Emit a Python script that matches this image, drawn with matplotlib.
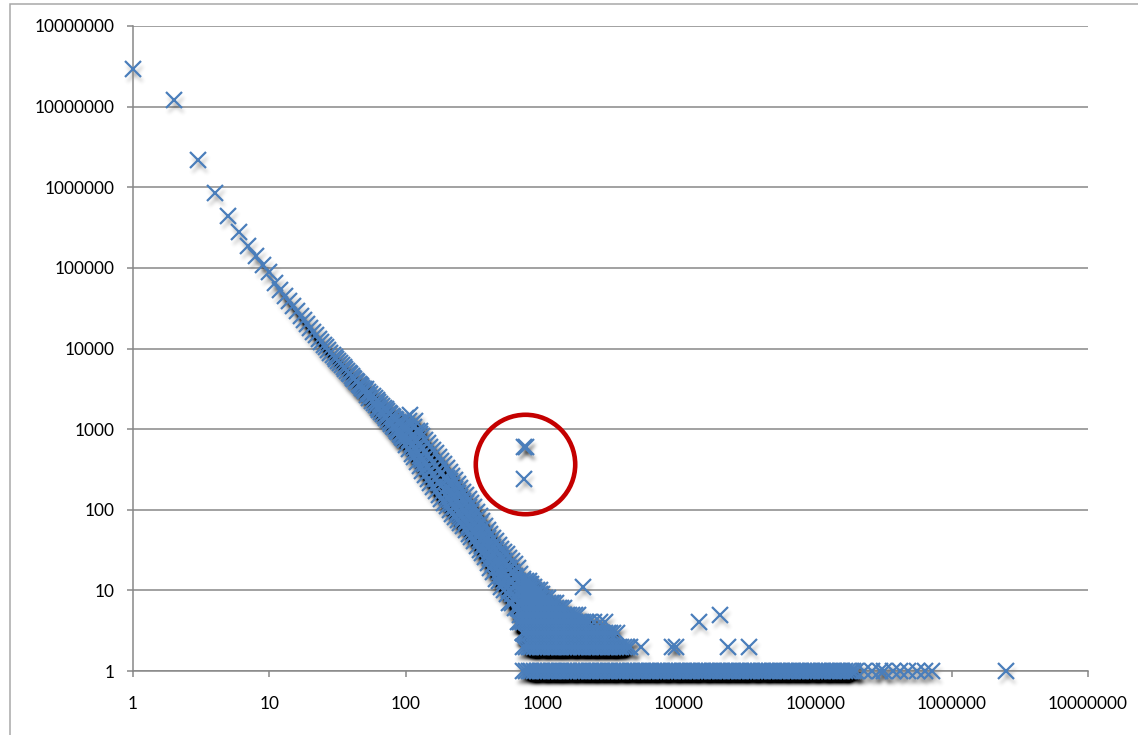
import numpy as np
import matplotlib
matplotlib.use('Agg')
import matplotlib.pyplot as plt
from matplotlib.patches import Rectangle
from matplotlib.ticker import NullLocator

BLUE = '#4a7ebb'
GREY = '#878787'

# first few counts, one point each
head_x = [1, 2, 3, 4, 5, 6, 7, 8, 9, 10]
head_y = [29000000, 12000000, 2200000, 850000, 440000, 280000, 187000, 140000, 110000, 89000]

# the narrow diagonal, one point per count 11..99
diag_x = [11, 12, 13, 14, 15, 16, 17, 18, 19, 20,
          21, 22, 23, 24, 25, 26, 27, 28, 29, 30,
          31, 32, 33, 34, 35, 36, 37, 38, 39, 40,
          41, 42, 43, 44, 45, 46, 47, 48, 49, 50,
          51, 52, 53, 54, 55, 56, 57, 58, 59, 60,
          61, 62, 63, 64, 65, 66, 67, 68, 69, 70,
          71, 72, 73, 74, 75, 76, 77, 78, 79, 80,
          81, 82, 83, 84, 85, 86, 87, 88, 89, 90,
          91, 92, 93, 94, 95, 96, 97, 98, 99]
diag_y = [64900, 53800, 45400, 38700, 33400, 29100, 25500, 22600, 20100, 18000,
          16200, 14700, 13300, 12200, 11200, 10300, 9520, 8900, 8330, 7820,
          7350, 6930, 6540, 6180, 5860, 5560, 5280, 5020, 4790, 4560,
          4360, 4170, 3990, 3820, 3660, 3510, 3380, 3250, 3120, 3010,
          3150, 2650, 2900, 2450, 2750, 2250, 2560, 2120, 2420, 1970,
          2280, 1850, 2150, 1740, 2030, 1630, 1930, 1540, 1820, 1450,
          1760, 1360, 1660, 1290, 1590, 1220, 1520, 1160, 1450, 1100,
          1400, 1050, 1340, 1000, 1290, 950, 1240, 910, 1190, 870,
          1150, 835, 1100, 800, 1060, 770, 1020, 740, 990]

# the wide part of the band, 100..724, several frequencies per count
cloud_x = [100, 105, 110, 115, 120, 126, 132, 138, 145, 151, 158, 166, 174, 182, 191,
           200, 209, 219, 229, 240, 251, 263, 275, 288, 302, 316, 331, 347, 363, 380,
           398, 417, 437, 457, 479, 501, 525, 550, 575, 603, 631, 661, 692, 724]
cloud_y = [[631, 813, 1070, 1380], [562, 741, 977, 1260], [490, 646, 851, 1150],
           [447, 589, 794, 1050], [389, 525, 708, 955], [347, 468, 631, 871],
           [302, 417, 575, 813], [269, 372, 525, 741], [240, 339, 479, 676],
           [214, 302, 427, 603], [191, 269, 380, 550], [170, 240, 347, 501],
           [151, 214, 309, 457], [135, 195, 282, 407], [120, 174, 251, 372],
           [110, 145, 191, 251, 331], [100, 132, 174, 229, 295],
           [89, 117, 155, 204, 263], [81, 107, 141, 182, 234],
           [74, 95, 123, 162, 209], [68, 87, 112, 145, 186],
           [62, 79, 100, 129, 166], [56, 72, 93, 120, 151],
           [50, 65, 83, 107, 135], [46, 59, 74, 95, 120],
           [41, 52, 66, 85, 107], [36, 47, 59, 76, 95],
           [32, 42, 52, 66, 83], [29, 36, 46, 58, 72],
           [26, 32, 41, 50, 63], [22, 28, 35, 45, 56],
           [19, 25, 31, 40, 50], [17, 21, 28, 35, 45],
           [14, 19, 24, 32, 41], [13, 17, 22, 28, 37],
           [11, 15, 19, 25, 33], [10, 13, 17, 23, 30],
           [9, 11, 15, 20, 28], [7, 10, 13, 19, 25],
           [7, 9, 13, 17, 23], [6, 8, 11, 15, 21],
           [4, 6, 9, 13, 19], [4, 5, 7, 10, 16], [3, 4, 6, 10, 14]]

# low frequencies: counts that occur 1, 2, 3 ... times
row_levels = [1, 2, 3, 4, 5, 6, 7, 8, 9, 10, 11, 12, 13]
row_x = [
    [724, 759, 794, 832, 871, 912, 955,
     1000, 1050, 1100, 1150, 1200, 1260, 1320, 1380, 1450, 1510, 1580, 1660, 1740,
     1820, 1910, 2000, 2090, 2190, 2290, 2400, 2510, 2630, 2750, 2880, 3020, 3160,
     3310, 3470, 3630, 3800, 3980, 4170, 4370, 4570, 4790, 5010, 5250, 5500, 5750,
     6030, 6310, 6610, 6920, 7240, 7590, 7940, 8320, 8710, 9120, 9550,
     10000, 10500, 11000, 11500, 12000, 12600, 13200, 13800, 14500, 15100, 15800,
     16600, 17400, 18200, 19100, 20000, 20900, 21900, 22900, 24000, 25100, 26300,
     27500, 28800, 30200, 31600, 33100, 34700, 36300, 38000, 39800, 41700, 43700,
     45700, 47900, 50100, 52500, 55000, 57500, 60300, 63100, 66100, 69200, 72400,
     75900, 79400, 83200, 87100, 91200, 95500,
     100000, 105000, 110000, 115000, 120000, 126000, 132000, 138000, 145000,
     151000, 158000, 166000, 174000, 182000, 191000, 200000,
     228000, 262000, 297000, 320000, 370000, 420000, 480000, 560000, 640000,
     720000, 2500000],
    [724, 759, 794, 832, 871, 912, 955,
     1000, 1050, 1100, 1150, 1200, 1260, 1320, 1380, 1450, 1510, 1580, 1660, 1740,
     1820, 1910, 2000, 2090, 2190, 2290, 2400, 2510, 2630, 2750, 2880, 3020, 3160,
     3310, 3470, 3630, 3800, 3980, 4170, 4370,
     5300, 8900, 9600, 23000, 33000],
    [724, 759, 794, 832, 871, 912, 955,
     1000, 1050, 1100, 1150, 1200, 1260, 1320, 1380, 1450, 1510, 1580, 1660, 1740,
     1820, 1910, 2000, 2090, 2190, 2290, 2400, 2510, 2630, 2750, 2880, 3020, 3160,
     3300, 3500],
    [724, 759, 794, 832, 871, 912, 955,
     1000, 1050, 1100, 1150, 1200, 1260, 1320, 1380, 1450, 1510, 1580, 1660, 1740,
     1820, 1910, 2000, 2090, 2190,
     2400, 2630, 2880, 14000],
    [724, 759, 794, 832, 871, 912, 955,
     1000, 1050, 1100, 1150, 1200, 1260, 1320, 1380, 1450, 1510, 1580, 1660, 1740,
     1820, 20000],
    [724, 759, 794, 832, 871, 912, 955,
     1000, 1050, 1100, 1150, 1200, 1260, 1320, 1380, 1450],
    [724, 759, 794, 832, 871, 912, 955, 1000, 1050, 1100, 1150, 1200, 1260],
    [724, 759, 794, 832, 871, 912, 955, 1000, 1050, 1100],
    [724, 759, 794, 832, 871, 912, 955, 1000],
    [724, 759, 794, 832, 871, 912, 955],
    [724, 759, 794, 832, 871, 2000],
    [724, 759, 794, 832],
    [724, 759, 794],
]

# stray points along the upper edge near the knee of the band
extra_x = [108, 117, 128]
extra_y = [1500, 1250, 960]

# the points singled out by the red ring
circled_x = [730, 765, 740]
circled_y = [600, 600, 240]
ring_x, ring_y = 748, 365

x_ticks = [1, 10, 100, 1000, 10000, 100000, 1000000, 10000000]
x_tick_labels = ['1', '10', '100', '1000', '10000', '100000', '1000000', '10000000']
y_ticks = [1, 10, 100, 1000, 10000, 100000, 1000000, 10000000, 100000000]
y_tick_labels = ['1', '10', '100', '1000', '10000', '100000', '1000000',
                 '10000000', '10000000']


def gauss_blur(a, sigma):
    r = int(3 * sigma)
    k = np.exp(-0.5 * (np.arange(-r, r + 1) / sigma) ** 2)
    k /= k.sum()
    h, w = a.shape
    p = np.pad(a, r)
    tmp = sum(k[i] * p[i:i + h, :] for i in range(2 * r + 1))
    return sum(k[i] * tmp[:, i:i + w] for i in range(2 * r + 1))


class DropShadow:
    # soft offset shadow, turning black where many markers pile up
    def __init__(self, sigma, dx, dy, gain, gamma):
        self.sigma, self.dx, self.dy = sigma, dx, dy
        self.gain, self.gamma = gain, gamma

    def __call__(self, im, dpi):
        pad = int(3 * self.sigma) + 2
        alpha = np.pad(im[:, :, 3], pad)
        dens = np.clip(gauss_blur(alpha, self.sigma) * self.gain, 0, 1)
        out = np.zeros(alpha.shape + (4,))
        out[:, :, 3] = dens ** self.gamma
        return out, -pad + self.dx, -pad - self.dy


xs, ys = list(head_x) + list(diag_x), list(head_y) + list(diag_y)
for cx, col in zip(cloud_x, cloud_y):
    xs += [cx] * len(col)
    ys += col
for lvl, rx in zip(row_levels, row_x):
    xs += rx
    ys += [lvl] * len(rx)
xs += extra_x + circled_x
ys += extra_y + circled_y

plt.rcParams['font.family'] = ['Lato', 'DejaVu Sans']
fig = plt.figure(figsize=(11.38, 7.35), dpi=100)
fig.patches.append(Rectangle((10 / 1138, -0.1), 2, 1.1 - 4 / 735, transform=fig.transFigure,
                             fill=False, ec='#a8a8a8', lw=1.1))

ax = fig.add_axes([133 / 1138, 1 - 671 / 735, 955 / 1138, 645 / 735])
ax.set_xscale('log')
ax.set_yscale('log')
ax.set_xlim(1, 1e7)
ax.set_ylim(1, 1e8)

shadow, = ax.plot(xs, ys, ls='none', marker='x', ms=11.5, mew=1.6, color='black',
                  alpha=0.22, clip_on=False, zorder=2)
shadow.set_agg_filter(DropShadow(sigma=2.4, dx=2, dy=5, gain=3.2, gamma=1.6))
ax.plot(xs, ys, ls='none', marker='x', ms=11.5, mew=1.6, color=BLUE,
        clip_on=False, zorder=3)

ax.plot([ring_x], [ring_y], ls='none', marker='o', ms=71.6, mfc='none',
        mec='#c40000', mew=3.3, clip_on=False, zorder=4)

ax.set_xticks(x_ticks, x_tick_labels)
ax.set_yticks(y_ticks, y_tick_labels)
ax.xaxis.set_minor_locator(NullLocator())
ax.yaxis.set_minor_locator(NullLocator())
ax.tick_params(axis='both', direction='out', length=4, width=1.1, color=GREY,
               labelsize=12.4, labelcolor='black')
ax.tick_params(axis='x', pad=14)
ax.tick_params(axis='y', pad=9)

ax.grid(axis='y', color=GREY, lw=1.1)
ax.set_axisbelow(True)
for side in ('top', 'right'):
    ax.spines[side].set_visible(False)
for side in ('left', 'bottom'):
    ax.spines[side].set_color(GREY)
    ax.spines[side].set_linewidth(1.1)

fig.savefig('out.png', dpi=100, facecolor='white')
